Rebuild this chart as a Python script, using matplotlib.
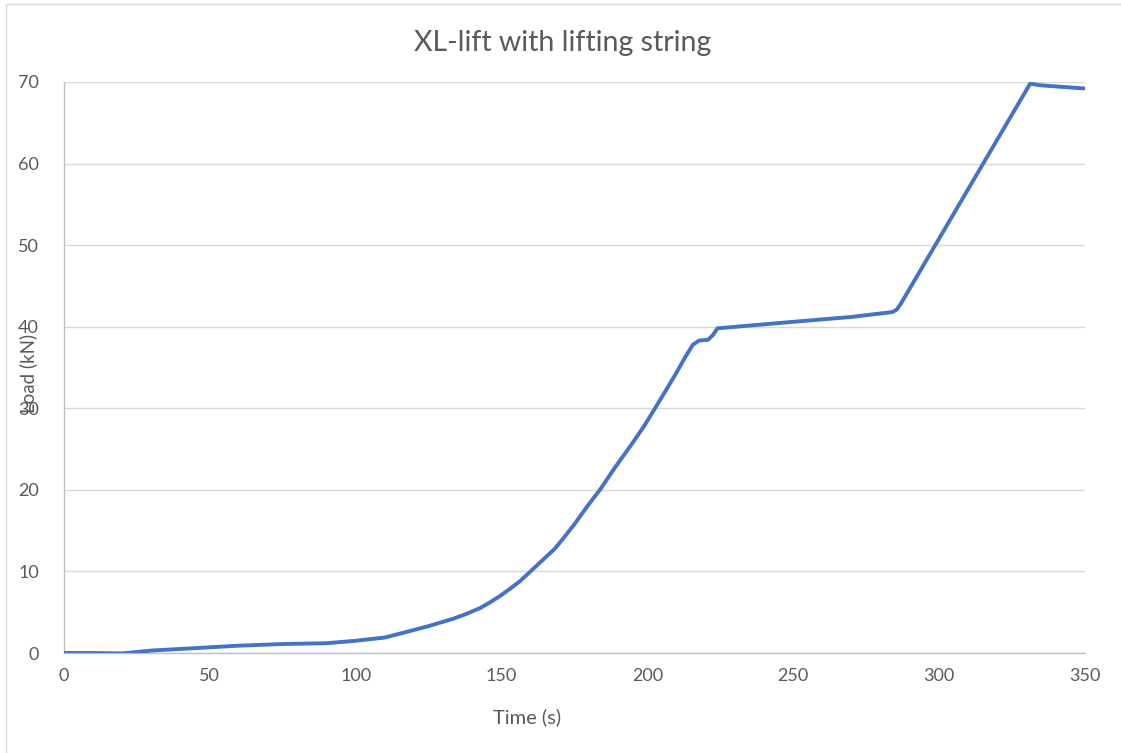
import matplotlib
matplotlib.use("Agg")
import matplotlib.pyplot as plt
from matplotlib.patches import Rectangle

time_s = [0, 10, 20, 30, 40, 50, 60, 75, 90, 100, 110, 117.6, 125, 133.4, 138, 142.6, 146, 149.5,
          153, 156.3, 159, 162, 165, 168.3, 171.5, 175, 179, 183.7, 189, 195, 199, 202.6, 206,
          210, 213, 215.6, 217.7, 220.8, 222.5, 224, 250, 270, 284,
          285.5, 287, 331.2, 334.6, 350]
load_kn = [0, 0, -0.05, 0.3, 0.5, 0.7, 0.9, 1.1, 1.2, 1.5, 1.9, 2.6, 3.3, 4.2, 4.8, 5.5, 6.2, 7.0,
           7.9, 8.8, 9.7, 10.7, 11.7, 12.8, 14.2, 15.8, 17.8, 20.0, 22.8, 25.8, 27.9, 30.0, 32.0,
           34.4, 36.3, 37.8, 38.3, 38.4, 39.0, 39.8, 40.6, 41.2, 41.8,
           42.1, 42.9, 69.8, 69.6, 69.2]
x_ticks = [0, 50, 100, 150, 200, 250, 300, 350]
y_ticks = [0, 10, 20, 30, 40, 50, 60, 70]

W, H = 1121, 753
fig = plt.figure(figsize=(W / 100, H / 100), dpi=100)
font = ["Lato", "DejaVu Sans"]
plt.rcParams["font.family"] = font

ax = fig.add_axes([64 / W, 1 - 653 / H, (1085 - 64) / W, (653 - 82) / H])
ax.plot(time_s, load_kn, color="#4472C4", lw=2.8, solid_joinstyle="round",
        solid_capstyle="butt", zorder=3)
ax.set_xlim(0, 350)
ax.set_ylim(0, 70)
ax.set_xticks(x_ticks)
ax.set_yticks(y_ticks)
ax.yaxis.grid(True, color="#D9D9D9", lw=1.0)
ax.set_axisbelow(True)
for s in ["top", "right"]:
    ax.spines[s].set_visible(False)
ax.spines["left"].set_color("#BFBFBF")
ax.spines["bottom"].set_color("#BFBFBF")
ax.spines["left"].set_linewidth(1.0)
ax.spines["bottom"].set_linewidth(1.0)
ax.tick_params(axis="both", length=0, labelsize=13, labelcolor="#595959")
ax.tick_params(axis="y", pad=18)
ax.tick_params(axis="x", pad=11)

fig.text(563 / W, 1 - 43 / H, "XL-lift with lifting string", ha="center", va="center",
         fontsize=20.5, color="#595959")
fig.text(527 / W, 1 - 717 / H, "Time (s)", ha="center", va="center", fontsize=14.5,
         color="#595959")
fig.text(28 / W, 1 - 373 / H, "Load (kN)", ha="center", va="center", rotation=90,
         fontsize=13.5, color="#595959")

fig.patches.append(Rectangle((6 / W, -0.1), 1.2, 1 - 4 / H + 0.1, transform=fig.transFigure,
                             fill=False, edgecolor="#D9D9D9", lw=1.0))

fig.savefig("out.png", dpi=100)
